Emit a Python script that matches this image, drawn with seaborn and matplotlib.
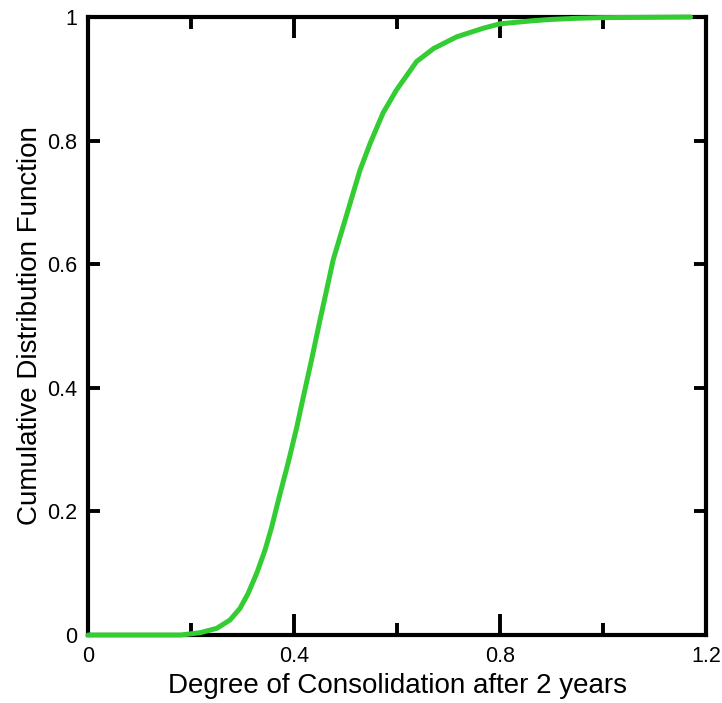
import matplotlib
matplotlib.use("Agg")
import matplotlib.pyplot as plt
from matplotlib.ticker import MultipleLocator, FixedLocator
import pandas as pd
import seaborn as sns

# Empirical CDF of the degree of consolidation after 2 years
degree = [0.0, 0.18, 0.2175, 0.25, 0.2757, 0.295, 0.311, 0.3276, 0.3437,
          0.3567, 0.3696, 0.389, 0.405, 0.418, 0.434, 0.4505, 0.459, 0.476,
          0.509, 0.528, 0.548, 0.573, 0.599, 0.638, 0.671, 0.716, 0.768,
          0.80, 0.864, 0.897, 0.95, 1.0, 1.17]
cdf = [0.0, 0.0, 0.0037, 0.0108, 0.0243, 0.043, 0.0675, 0.100, 0.1375,
       0.175, 0.218, 0.280, 0.335, 0.385, 0.445, 0.510, 0.542, 0.607,
       0.699, 0.752, 0.796, 0.845, 0.882, 0.928, 0.949, 0.968, 0.982,
       0.989, 0.994, 0.996, 0.998, 0.999, 1.0]

x_ticks = [0, 0.4, 0.8, 1.2]
x_tick_labels = ["0", "0.4", "0.8", "1.2"]
y_ticks = [0, 0.2, 0.4, 0.6, 0.8, 1.0]
y_tick_labels = ["0", "0.2", "0.4", "0.6", "0.8", "1"]

df = pd.DataFrame({"degree": degree, "cdf": cdf})

sns.set_style("white")
plt.rcParams["font.family"] = ["Liberation Sans", "DejaVu Sans"]
plt.rcParams["text.color"] = "black"
plt.rcParams["axes.labelcolor"] = "black"
plt.rcParams["xtick.color"] = "black"
plt.rcParams["ytick.color"] = "black"

fig = plt.figure(figsize=(7.22, 7.03), dpi=100)
ax = fig.add_axes([0.1219, 0.0967, 0.8560, 0.8791])

sns.lineplot(data=df, x="degree", y="cdf", ax=ax, color="#33cc33",
             linewidth=3.6, zorder=5, clip_on=False, errorbar=None)
ax.lines[0].set_solid_capstyle("round")
ax.lines[0].set_solid_joinstyle("round")

ax.set_xlim(0, 1.2)
ax.set_ylim(0, 1)

ax.xaxis.set_major_locator(FixedLocator(x_ticks))
ax.set_xticklabels(x_tick_labels)
ax.xaxis.set_minor_locator(MultipleLocator(0.2))
ax.yaxis.set_major_locator(FixedLocator(y_ticks))
ax.set_yticklabels(y_tick_labels)

for s in ax.spines.values():
    s.set_linewidth(3.0)
    s.set_color("black")
    s.set_visible(True)

ax.tick_params(axis="x", which="major", direction="in", length=15, width=2.8,
               top=True, bottom=True, labelsize=15.5, pad=8,
               color="black", labelcolor="black")
ax.tick_params(axis="x", which="minor", direction="in", length=8.5, width=2.8,
               top=True, bottom=True, color="black")
ax.tick_params(axis="y", which="major", direction="in", length=8.5, width=2.8,
               left=True, right=True, labelsize=15.5, pad=8,
               color="black", labelcolor="black")

ax.set_xlabel("Degree of Consolidation after 2 years", fontsize=20,
              labelpad=4, color="black")
ax.set_ylabel("Cumulative Distribution Function", fontsize=20,
              labelpad=3, color="black")

fig.savefig("out.png", dpi=100)
